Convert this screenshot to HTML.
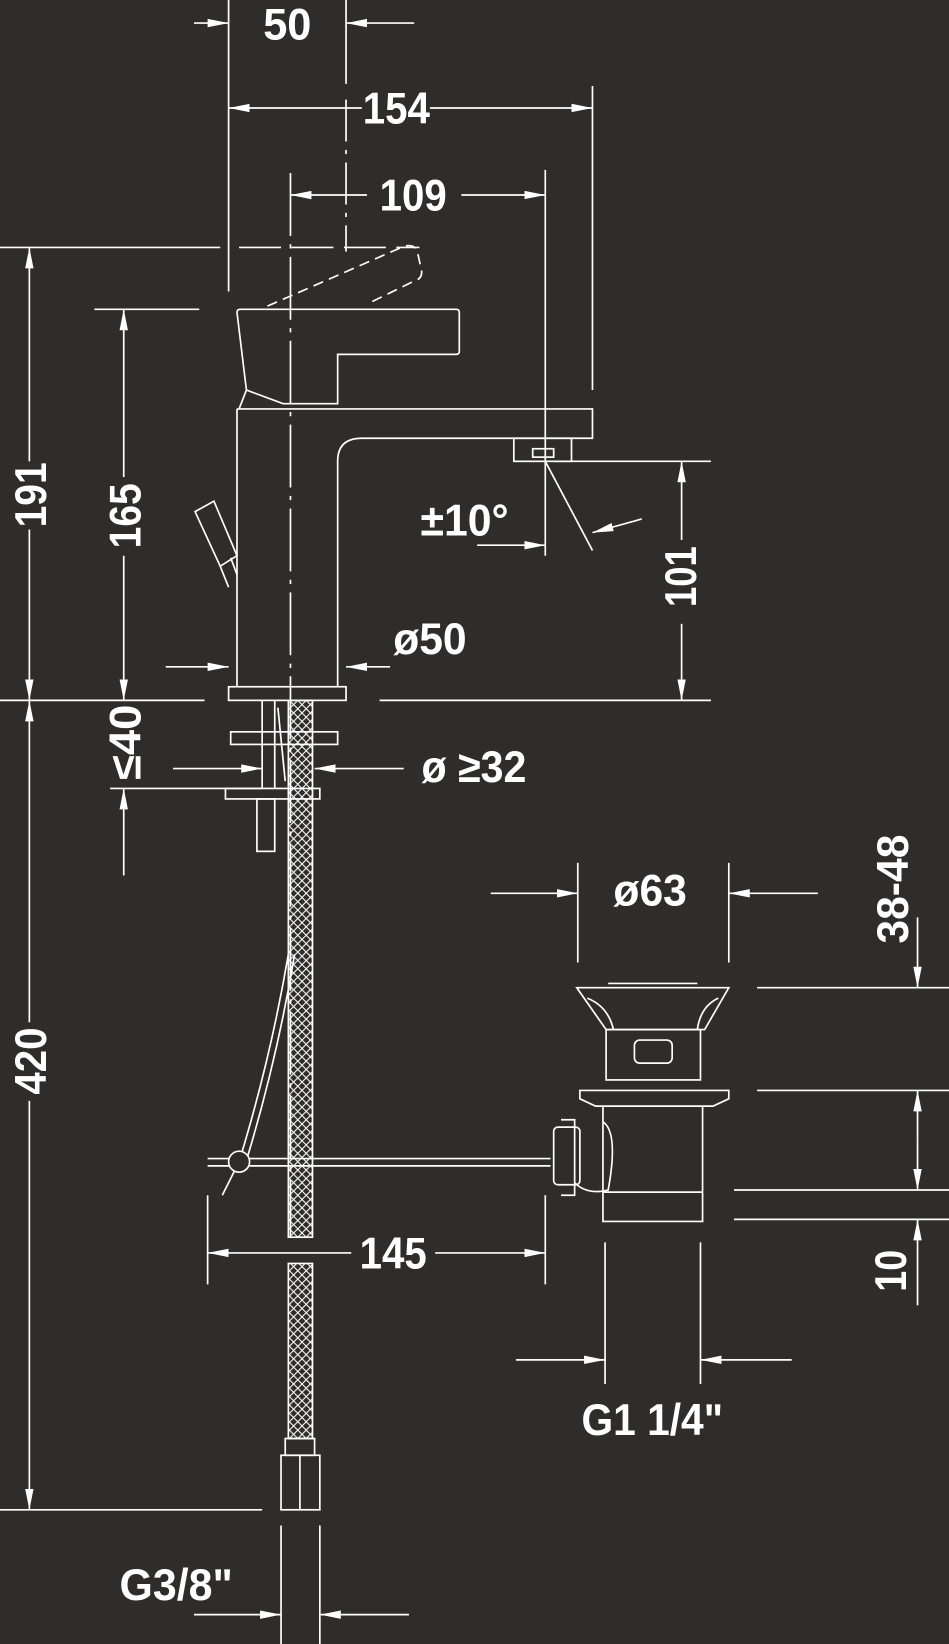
<!DOCTYPE html>
<html><head><meta charset="utf-8"><style>
html,body{margin:0;padding:0;background:#2e2d2c;}
svg{display:block}
text{font-family:"Liberation Sans Narrow","Liberation Sans",sans-serif;font-weight:bold;fill:#fff;font-size:42px;}
</style></head><body>
<svg width="949" height="1644" viewBox="0 0 905 1568" preserveAspectRatio="none" xmlns="http://www.w3.org/2000/svg">
<defs>
<marker id="a" viewBox="0 0 20 10" refX="20" refY="5" markerWidth="20" markerHeight="10" markerUnits="userSpaceOnUse" orient="auto"><path d="M0,1 L20,5 L0,9 Z" fill="#fff"/></marker>
<pattern id="h" width="8" height="8" patternUnits="userSpaceOnUse"><path d="M0,0 L8,8 M8,0 L0,8" stroke="#fff" stroke-width="1"/></pattern>
</defs>
<rect width="905" height="1568" fill="#2e2d2c"/>
<g stroke="#fff" stroke-width="1.6" fill="none">
<line x1="218" y1="0" x2="218" y2="278"/>
<line x1="330" y1="0" x2="330" y2="80"/>
<line x1="330" y1="95" x2="330" y2="240" stroke-dasharray="40,8,4,8"/>
<line x1="277" y1="165" x2="277" y2="1180" stroke-dasharray="60,8,4,8"/>
<line x1="565" y1="82" x2="565" y2="372"/>
<line x1="520" y1="162" x2="520" y2="530"/>
<line x1="0" y1="236" x2="210" y2="236"/>
<line x1="228" y1="236" x2="400" y2="236" stroke-dasharray="40,10"/>
<line x1="90" y1="295" x2="190" y2="295"/>
<line x1="0" y1="668" x2="195" y2="668"/>
<line x1="362" y1="668" x2="678" y2="668"/>
<line x1="0" y1="1440" x2="250" y2="1440"/>
<line x1="105" y1="752" x2="250" y2="752"/>
<line x1="530" y1="440" x2="678" y2="440"/>
<line x1="185" y1="22" x2="218" y2="22" marker-end="url(#a)"/>
<line x1="395" y1="22" x2="330" y2="22" marker-end="url(#a)"/>
<line x1="345" y1="103" x2="218" y2="103" marker-end="url(#a)"/>
<line x1="410" y1="103" x2="565" y2="103" marker-end="url(#a)"/>
<line x1="350" y1="186" x2="277" y2="186" marker-end="url(#a)"/>
<line x1="440" y1="186" x2="520" y2="186" marker-end="url(#a)"/>
<line x1="28" y1="440" x2="28" y2="236" marker-end="url(#a)"/>
<line x1="28" y1="505" x2="28" y2="668" marker-end="url(#a)"/>
<line x1="118" y1="455" x2="118" y2="295" marker-end="url(#a)"/>
<line x1="118" y1="530" x2="118" y2="668" marker-end="url(#a)"/>
<line x1="28" y1="975" x2="28" y2="668" marker-end="url(#a)"/>
<line x1="28" y1="1050" x2="28" y2="1440" marker-end="url(#a)"/>
<line x1="118" y1="835" x2="118" y2="752" marker-end="url(#a)"/>
<line x1="158" y1="636" x2="218" y2="636" marker-end="url(#a)"/>
<line x1="372" y1="636" x2="330" y2="636" marker-end="url(#a)"/>
<line x1="165" y1="733" x2="250" y2="733" marker-end="url(#a)"/>
<line x1="385" y1="733" x2="300" y2="733" marker-end="url(#a)"/>
<line x1="650" y1="515" x2="650" y2="440" marker-end="url(#a)"/>
<line x1="650" y1="595" x2="650" y2="668" marker-end="url(#a)"/>
<line x1="455" y1="520" x2="520" y2="520" marker-end="url(#a)"/>
<line x1="520" y1="440" x2="565" y2="525"/>
<line x1="612" y1="495" x2="565" y2="508" marker-end="url(#a)"/>
<path d="M226,298 Q226,295 229,295 L435,295 Q438,295 438,298 L438,335 Q438,338 435,338 L322,338 L322,385 L270,385 L235,372 Z"/>
<path d="M235,372 L228,390" />
<path d="M255,292 L385,235 Q395,232 398,240 L402,258 Q403,266 395,268 L350,290" stroke-dasharray="10,6"/>
<path d="M226,390 L565,390 L565,418 L345,418 Q322,418 322,440 L322,655 M226,390 L226,655"/>
<rect x="490" y="418" width="55" height="22"/>
<rect x="508" y="428" width="20" height="8"/>
<path d="M186,488 L204,478 L226,530 L210,540 Z M210,540 L218,560 M220,532 L226,548"/>
<rect x="218" y="655" width="112" height="13"/>
<rect x="220" y="698" width="102" height="12"/>
<rect x="215" y="752" width="90" height="10"/>
<rect x="245" y="762" width="17" height="50"/>
<line x1="250" y1="668" x2="250" y2="752"/><line x1="262" y1="668" x2="262" y2="752"/>
<path d="M265,675 L272,745" />
<rect x="275" y="668" width="23" height="512" fill="url(#h)"/>
<path d="M275,1205 L298,1205 L298,1372 L275,1372 Z" fill="url(#h)"/>
<rect x="272" y="1372" width="28" height="16"/>
<rect x="268" y="1388" width="37" height="52"/>
<line x1="286" y1="1388" x2="286" y2="1440"/>
<line x1="198" y1="1105" x2="525" y2="1105"/>
<line x1="198" y1="1112" x2="525" y2="1112"/>
<path d="M275,910 Q258,1010 228,1108 L212,1140"/>
<path d="M281,910 Q264,1012 234,1110"/>
<circle cx="228" cy="1108" r="10" fill="#2e2d2c"/>
<path d="M550,942 L695,942 L672,982 L578,982 Z"/>
<path d="M580,938 L665,938"/>
<path d="M560,952 Q580,960 585,982 M685,952 Q668,960 665,982"/>
<rect x="578" y="982" width="90" height="48"/>
<rect x="605" y="992" width="36" height="22" rx="5"/>
<path d="M553,1040 L695,1040 L695,1048 L680,1055 L568,1055 L553,1048 Z"/>
<path d="M575,1055 L575,1165 L670,1165 L670,1055 M575,1137 L670,1137"/>
<path d="M575,1070 Q590,1080 580,1135 Q560,1140 548,1128"/>
<rect x="528" y="1075" width="25" height="55" rx="4"/>
<path d="M535,1068 L548,1068 L548,1140 L535,1140"/>
<line x1="551" y1="823" x2="551" y2="918"/>
<line x1="695" y1="823" x2="695" y2="918"/>
<line x1="468" y1="852" x2="551" y2="852" marker-end="url(#a)"/>
<line x1="780" y1="852" x2="695" y2="852" marker-end="url(#a)"/>
<line x1="722" y1="942" x2="905" y2="942"/>
<line x1="722" y1="1040" x2="905" y2="1040"/>
<line x1="700" y1="1135" x2="905" y2="1135"/>
<line x1="700" y1="1163" x2="905" y2="1163"/>
<line x1="875" y1="875" x2="875" y2="942" marker-end="url(#a)"/>
<line x1="875" y1="1088" x2="875" y2="1040" marker-end="url(#a)"/>
<line x1="875" y1="1088" x2="875" y2="1135" marker-end="url(#a)"/>
<line x1="875" y1="1245" x2="875" y2="1163" marker-end="url(#a)"/>
<line x1="198" y1="1140" x2="198" y2="1225"/>
<line x1="520" y1="1140" x2="520" y2="1225"/>
<line x1="335" y1="1195" x2="198" y2="1195" marker-end="url(#a)"/>
<line x1="415" y1="1195" x2="520" y2="1195" marker-end="url(#a)"/>
<line x1="577" y1="1185" x2="577" y2="1320"/>
<line x1="668" y1="1185" x2="668" y2="1320"/>
<line x1="492" y1="1297" x2="577" y2="1297" marker-end="url(#a)"/>
<line x1="755" y1="1297" x2="668" y2="1297" marker-end="url(#a)"/>
<line x1="268" y1="1455" x2="268" y2="1568"/>
<line x1="305" y1="1455" x2="305" y2="1568"/>
<line x1="185" y1="1540" x2="268" y2="1540" marker-end="url(#a)"/>
<line x1="390" y1="1540" x2="305" y2="1540" marker-end="url(#a)"/>
</g>
<g text-anchor="middle" dominant-baseline="central">
<text x="274" y="24" textLength="46" lengthAdjust="spacingAndGlyphs">50</text>
<text x="378" y="104" textLength="64" lengthAdjust="spacingAndGlyphs">154</text>
<text x="394" y="187" textLength="64" lengthAdjust="spacingAndGlyphs">109</text>
<text x="443" y="497" textLength="84" lengthAdjust="spacingAndGlyphs">±10°</text>
<text x="410" y="610" textLength="70" lengthAdjust="spacingAndGlyphs">ø50</text>
<text x="452" y="732" textLength="100" lengthAdjust="spacingAndGlyphs">ø ≥32</text>
<text x="620" y="850" textLength="70" lengthAdjust="spacingAndGlyphs">ø63</text>
<text x="375" y="1196" textLength="64" lengthAdjust="spacingAndGlyphs">145</text>
<text x="622" y="1355" textLength="135" lengthAdjust="spacingAndGlyphs">G1 1/4"</text>
<text x="168" y="1512" textLength="108" lengthAdjust="spacingAndGlyphs">G3/8"</text>
<text transform="translate(30,472) rotate(-90)" textLength="62" lengthAdjust="spacingAndGlyphs">191</text>
<text transform="translate(120,492) rotate(-90)" textLength="62" lengthAdjust="spacingAndGlyphs">165</text>
<text transform="translate(30,1012) rotate(-90)" textLength="64" lengthAdjust="spacingAndGlyphs">420</text>
<text transform="translate(120,708) rotate(-90)" textLength="72" lengthAdjust="spacingAndGlyphs">≤40</text>
<text transform="translate(650,550) rotate(-90)" textLength="58" lengthAdjust="spacingAndGlyphs">101</text>
<text transform="translate(852,848) rotate(-90)" textLength="104" lengthAdjust="spacingAndGlyphs">38-48</text>
<text transform="translate(850,1212) rotate(-90)" textLength="40" lengthAdjust="spacingAndGlyphs">10</text>
</g>
</svg>
</body></html>
